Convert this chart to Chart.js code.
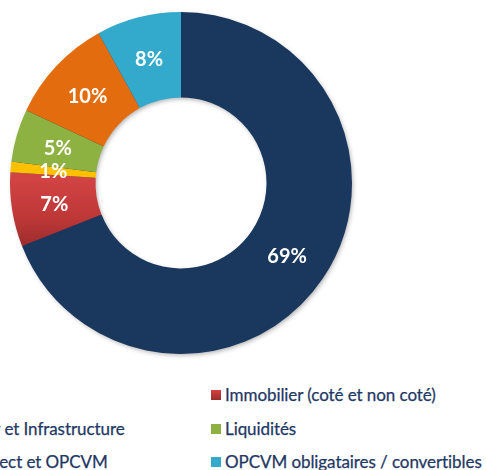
<!DOCTYPE html>
<html>
<head>
<meta charset="utf-8">
<script src="https://cdn.jsdelivr.net/npm/chart.js@4/dist/chart.umd.min.js"></script>
<style>
  html, body { margin: 0; padding: 0; background: #ffffff; }
  #wrap { position: relative; width: 486px; height: 470px; overflow: hidden; background: #fff; }
  #c { position: absolute; left: 1px; top: 3px; }
  .lg { position: absolute; white-space: nowrap; color: #1f3864; font-family: Lato, "Open Sans", sans-serif; line-height: 1; -webkit-text-stroke: 0.25px #1f3864; }
  .bx { position: absolute; width: 10px; height: 10px; }
</style>
</head>
<body>
<div id="wrap">
  <canvas id="c" width="360" height="360"></canvas>
  <div id="legend"></div>
</div>
<script>
// ---- data ----
const categories = [
  "Obligations",
  "Immobilier (coté et non coté)",
  "Private Equity et Infrastructure",
  "Liquidités",
  "Actions en direct et OPCVM",
  "OPCVM obligataires / convertibles"
];
const shares = [69, 7, 1, 5, 10, 8];
const colors = ["#1a375e", "#c53a3a", "#ffc000", "#8db241", "#e36c0e", "#33aacb"];

// ---- chart ----
const canvas = document.getElementById('c');
const ctx0 = canvas.getContext('2d');

function redGradient(chart) {
  const a = chart.chartArea;
  if (!a || !isFinite(a.top) || !isFinite(a.bottom)) return colors[1];
  const cy = (a.top + a.bottom) / 2;
  const R = Math.min(a.right - a.left, a.bottom - a.top) / 2;
  const g = chart.ctx.createLinearGradient(0, cy - 0.02 * R, 0, cy + 0.4 * R);
  g.addColorStop(0, "#d24343");
  g.addColorStop(0.55, "#bd3737");
  g.addColorStop(1, "#962a2a");
  return g;
}

const shadowPlugin = {
  id: 'ringShadow',
  beforeDatasetsDraw(chart) {
    const arc = chart.getDatasetMeta(0).data[0];
    if (!arc) return;
    const c = chart.ctx;
    c.save();
    c.shadowColor = 'rgba(0,0,0,0.35)';
    c.shadowBlur = 5;
    c.shadowOffsetX = 1.5;
    c.shadowOffsetY = 2;
    c.fillStyle = '#1a375e';
    c.beginPath();
    c.arc(arc.x, arc.y, arc.outerRadius - 1, 0, Math.PI * 2);
    c.arc(arc.x, arc.y, arc.innerRadius + 1, 0, Math.PI * 2, true);
    c.closePath();
    c.fill();
    c.restore();
  }
};

const labelPlugin = {
  id: 'sliceLabels',
  afterDatasetsDraw(chart) {
    const c = chart.ctx;
    const meta = chart.getDatasetMeta(0);
    c.save();
    c.fillStyle = '#ffffff';
    c.font = 'bold 20px Lato, "Open Sans", sans-serif';
    c.textAlign = 'center';
    c.textBaseline = 'middle';
    meta.data.forEach((arc, i) => {
      const p = arc.tooltipPosition();
      c.fillText(shares[i] + '%', p.x, p.y + 1);
    });
    c.restore();
  }
};

new Chart(canvas, {
  type: 'doughnut',
  data: {
    labels: categories,
    datasets: [{
      data: shares,
      backgroundColor: (ctx) => ctx.dataIndex === 1 ? redGradient(ctx.chart) : colors[ctx.dataIndex],
      borderWidth: 0,
      hoverOffset: 0
    }]
  },
  options: {
    responsive: false,
    animation: false,
    cutout: '50%',
    layout: { padding: 9 },
    plugins: {
      legend: { display: false },
      tooltip: { enabled: false }
    },
    events: []
  },
  plugins: [shadowPlugin, labelPlugin]
});

// ---- HTML legend (two columns, as in the reference) ----
const legend = document.getElementById('legend');
const family = 'Lato, "Open Sans", sans-serif';
const fs = 17;
ctx0.save();
ctx0.font = fs + 'px ' + family;
const ls = Math.min(
  (222 - ctx0.measureText(categories[1]).width) / categories[1].length,
  (257 - ctx0.measureText(categories[5]).width) / categories[5].length);
const rowCenters = [395, 429, 462];
const rightTextX = 225, rightBoxX = 211;
const leftEnd = 125;
const leftTextX = leftEnd - (ctx0.measureText(categories[2]).width + ls * categories[2].length);
ctx0.restore();
categories.forEach((name, i) => {
  const col = i % 2, row = Math.floor(i / 2);
  const tx = col === 1 ? rightTextX : leftTextX;
  const bx = col === 1 ? rightBoxX : leftTextX - 14;
  const cy = rowCenters[row];
  const b = document.createElement('div');
  b.className = 'bx';
  b.style.left = bx + 'px';
  b.style.top = (cy - 5) + 'px';
  b.style.background = i === 1 ? 'linear-gradient(#d24343,#9a2b2b)' : colors[i];
  legend.appendChild(b);
  const t = document.createElement('div');
  t.className = 'lg';
  t.textContent = name;
  t.style.fontSize = fs + 'px';
  t.style.letterSpacing = ls + 'px';
  t.style.left = tx + 'px';
  t.style.top = (cy - fs * 0.55) + 'px';
  legend.appendChild(t);
});
</script>
</body>
</html>
